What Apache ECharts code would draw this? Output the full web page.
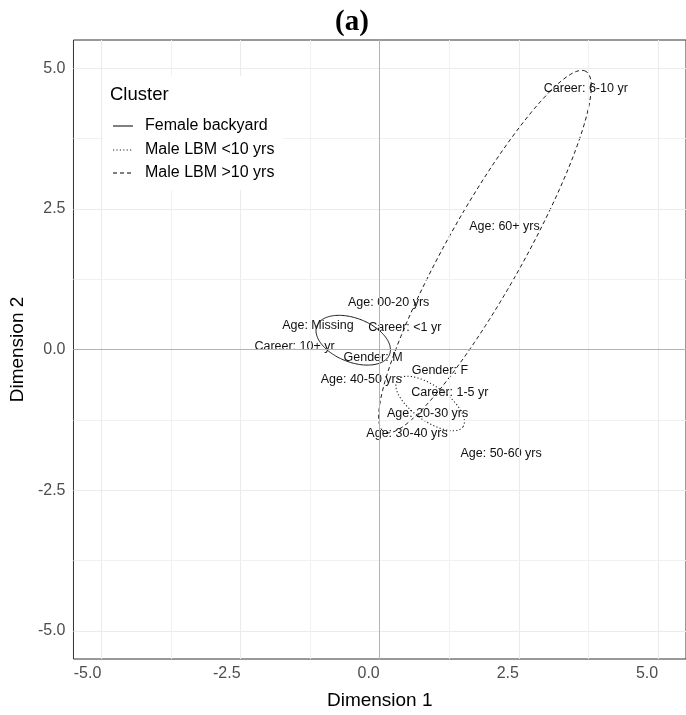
<!DOCTYPE html>
<html><head><meta charset="utf-8">
<script src="https://cdn.jsdelivr.net/npm/echarts@6/dist/echarts.min.js"></script>
<style>html,body{margin:0;padding:0;background:#fff;overflow:hidden}#c{width:686px;height:715px}</style>
</head><body><div id="c"></div>
<script>
// ---- data ----
const labelNames = ['Career: 6-10 yr','Age: 60+ yrs','Age: 00-20 yrs','Age: Missing','Career: <1 yr','Career: 10+ yr','Gender: M','Gender: F','Age: 40-50 yrs','Career: 1-5 yr','Age: 20-30 yrs','Age: 30-40 yrs','Age: 50-60 yrs'];
const labelX = [3.70, 2.24, 0.16, -1.11, 0.45, -1.53, -0.12, 1.08, -0.33, 1.26, 0.86, 0.49, 2.18];
const labelY = [4.63, 2.18, 0.83, 0.42, 0.39, 0.05, -0.14, -0.37, -0.53, -0.76, -1.13, -1.50, -1.85];

const clusterNames = ['Female backyard', 'Male LBM <10 yrs', 'Male LBM >10 yrs'];
const ellipseCx = [-0.476, 0.905, 1.89];
const ellipseCy = [0.165, -0.96, 1.74];
const ellipseA = [0.70, 0.72, 3.68];
const ellipseB = [0.39, 0.31, 0.69];
const ellipseAngle = [-21, -35, 60.5];

const axisTicks = [-5, -2.5, 0, 2.5, 5];
const minorTicks = [-3.75, -1.25, 1.25, 3.75];
const axisMin = -5.5, axisMax = 5.5;

// ---- styles ----
const dashes = [null, [1.2, 2.2], [4, 3]];
const FONT = 'Liberation Sans, Arial, sans-serif';

const chart = echarts.init(document.getElementById('c'), null, {renderer: 'canvas'});

const gridLines = [];
axisTicks.forEach(v => { if (v !== 0) { gridLines.push({xAxis: v, lineStyle: {color: '#EBEBEB', width: 1.1, type: 'solid'}}); gridLines.push({yAxis: v, lineStyle: {color: '#EBEBEB', width: 1.1, type: 'solid'}}); } });
minorTicks.forEach(v => { gridLines.push({xAxis: v, lineStyle: {color: '#EFEFEF', width: 0.9, type: 'solid'}}); gridLines.push({yAxis: v, lineStyle: {color: '#EFEFEF', width: 0.9, type: 'solid'}}); });
const zeroLines = [{xAxis: 0}, {yAxis: 0}];

const ellipseSeries = clusterNames.map((name, i) => ({
  type: 'custom', name: name, z: 3, silent: true, animation: false,
  data: [[ellipseCx[i], ellipseCy[i], ellipseA[i], ellipseB[i], ellipseAngle[i]]],
  renderItem: function (params, api) {
    const cx = api.value(0), cy = api.value(1), a = api.value(2), b = api.value(3);
    const ang = api.value(4) * Math.PI / 180;
    const pts = [];
    const N = 180;
    for (let k = 0; k <= N; k++) {
      const t = 2 * Math.PI * k / N;
      const ex = a * Math.cos(t), ey = b * Math.sin(t);
      pts.push(api.coord([cx + ex * Math.cos(ang) - ey * Math.sin(ang), cy + ex * Math.sin(ang) + ey * Math.cos(ang)]));
    }
    return {type: 'polyline', shape: {points: pts}, style: {fill: null, stroke: i === 1 ? '#222' : '#000', lineWidth: i === 1 ? 1.1 : 0.9, lineDash: dashes[i]}};
  }
}));

const option = {
  animation: false,
  backgroundColor: '#fff',
  grid: {left: 69.5, top: 40, width: 624, height: 624, show: true, borderColor: '#333', borderWidth: 1, backgroundColor: 'transparent'},
  xAxis: {
    type: 'value', min: axisMin, max: axisMax,
    name: 'Dimension 1', nameLocation: 'middle', nameGap: 32,
    nameTextStyle: {fontFamily: FONT, fontSize: 19, color: '#000'},
    axisLine: {show: false},
    axisTick: {show: true, length: 4, lineStyle: {color: '#333', width: 1}, customValues: axisTicks},
    axisLabel: {customValues: axisTicks, formatter: v => v.toFixed(1), fontFamily: FONT, fontSize: 16, color: '#4D4D4D', margin: 7, align: 'right'},
    splitLine: {show: false}
  },
  yAxis: {
    type: 'value', min: axisMin, max: axisMax,
    name: 'Dimension 2', nameLocation: 'middle', nameGap: 40, nameRotate: 90,
    nameTextStyle: {fontFamily: FONT, fontSize: 19, color: '#000'},
    axisLine: {show: false},
    axisTick: {show: true, length: 4, lineStyle: {color: '#333', width: 1}, customValues: axisTicks},
    axisLabel: {customValues: axisTicks, formatter: v => v.toFixed(1), fontFamily: FONT, fontSize: 16, color: '#4D4D4D', margin: 8},
    splitLine: {show: false}
  },
  series: [
    {
      type: 'scatter', name: 'grid', z: 1, silent: true, symbolSize: 0, data: [[0, 0]],
      itemStyle: {color: 'transparent'},
      markLine: {silent: true, symbol: ['none', 'none'], label: {show: false}, animation: false, data: gridLines}
    },
    {
      type: 'scatter', name: 'zero', z: 2, silent: true, symbolSize: 0, data: [[0, 0]],
      itemStyle: {color: 'transparent'},
      markLine: {silent: true, symbol: ['none', 'none'], label: {show: false}, animation: false,
        lineStyle: {color: '#B3B3B3', width: 1, type: 'solid'}, data: zeroLines}
    },
    ...ellipseSeries,
    {
      type: 'custom', name: 'labels', z: 4, silent: true, animation: false,
      data: labelNames.map((n, i) => [labelX[i], labelY[i], i]),
      renderItem: function (params, api) {
        const p = api.coord([api.value(0), api.value(1)]);
        return {type: 'text', x: p[0], y: p[1], style: {text: labelNames[api.value(2)], fill: '#111', font: '12.5px ' + FONT, align: 'center', verticalAlign: 'middle'}};
      }
    }
  ],
  graphic: [
    {type: 'text', z: 100, x: 352, y: 23, style: {text: '(a)', font: 'bold 29px "Liberation Serif", "Times New Roman", serif', fill: '#000', align: 'center', verticalAlign: 'middle'}},
    {type: 'rect', z: 100, shape: {x: 103, y: 76, width: 180, height: 114}, style: {fill: '#fff'}},
    {type: 'text', z: 101, x: 110, y: 95, style: {text: 'Cluster', font: '18.5px ' + FONT, fill: '#000', verticalAlign: 'middle'}},
    ...clusterNames.map((n, i) => ({type: 'line', z: 101, shape: {x1: 113, y1: [126, 150, 173][i], x2: 133, y2: [126, 150, 173][i]}, style: {stroke: i === 1 ? '#222' : '#000', lineWidth: i === 1 ? 1.1 : 1, lineDash: dashes[i]}})),
    ...clusterNames.map((n, i) => ({type: 'text', z: 101, x: 145, y: [126, 150, 173][i], style: {text: n, font: '16px ' + FONT, fill: '#000', verticalAlign: 'middle'}}))
  ]
};
chart.setOption(option);
</script></body></html>
